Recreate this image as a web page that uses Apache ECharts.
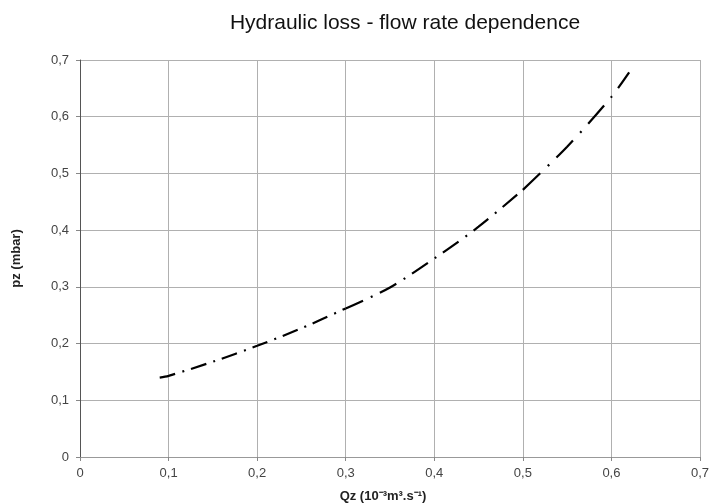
<!DOCTYPE html>
<html><head><meta charset="utf-8">
<script src="https://cdn.jsdelivr.net/npm/echarts@6/dist/echarts.min.js"></script>
<style>html,body{margin:0;padding:0;background:#fff}#c{width:712px;height:504px}</style>
</head><body><div id="c"></div>
<script>
const flowRate = [0.09, 0.10, 0.15, 0.20, 0.25, 0.30, 0.35, 0.40, 0.45, 0.50, 0.55, 0.60, 0.62];
const pressureLoss = [0.140, 0.143, 0.168, 0.196, 0.227, 0.262, 0.299, 0.350, 0.406, 0.471, 0.547, 0.635, 0.678];
const titleText = 'Hydraulic loss - flow rate dependence';
const xName = 'Qz (10⁻³m³.s⁻¹)';
const yName = 'pz (mbar)';

const fmt = v => String(Math.round(v * 10) / 10).replace('.', ',');
const pts = flowRate.map((x, i) => [x, pressureLoss[i]]);
// the reference dash pattern keeps a constant horizontal period, so steeper parts get longer dashes
const segments = [
  { from: 0.09, to: 0.30, dash: [16, 7.5, 2, 7] },
  { from: 0.30, to: 0.50, dash: [19, 8.5, 2, 8] },
  { from: 0.50, to: 0.62, dash: [24, 10.5, 2, 10] }
];
const chart = echarts.init(document.getElementById('c'));
chart.setOption({
  animation: false,
  backgroundColor: '#fff',
  title: { text: titleText, left: 400, top: 8, textAlign: 'center',
    textStyle: { fontFamily: 'Liberation Sans, Arial', fontSize: 21, fontWeight: 'normal', color: '#111' } },
  grid: { left: 80, right: 12, top: 60, bottom: 47, containLabel: false, outerBoundsMode: 'none' },
  xAxis: {
    type: 'value', min: 0, max: 0.7, interval: 0.1,
    name: xName, nameLocation: 'middle', nameGap: 33,
    nameTextStyle: { fontFamily: 'Liberation Sans, Arial', fontSize: 13, fontWeight: 'bold', color: '#222', padding: [0, 14, 0, 0] },
    axisLine: { show: true, lineStyle: { color: '#999', width: 1 } },
    axisTick: { show: true, length: 4, lineStyle: { color: '#888' } },
    axisLabel: { formatter: fmt, fontFamily: 'Liberation Sans, Arial', fontSize: 13, color: '#444', margin: 10 },
    splitLine: { show: true, lineStyle: { color: '#b0b0b0', width: 1 } }
  },
  yAxis: {
    type: 'value', min: 0, max: 0.7, interval: 0.1,
    name: yName, nameLocation: 'middle', nameGap: 57, nameRotate: 90,
    nameTextStyle: { fontFamily: 'Liberation Sans, Arial', fontSize: 13, fontWeight: 'bold', color: '#222' },
    axisLine: { show: true, lineStyle: { color: '#555', width: 1 } },
    axisTick: { show: true, length: 4, lineStyle: { color: '#888' } },
    axisLabel: { formatter: fmt, fontFamily: 'Liberation Sans, Arial', fontSize: 13, color: '#444', margin: 11 },
    splitLine: { show: true, lineStyle: { color: '#b0b0b0', width: 1 } }
  },
  series: segments.map(s => ({
    type: 'line',
    data: pts.filter(p => p[0] >= s.from - 1e-9 && p[0] <= s.to + 1e-9),
    smooth: 0.3,
    showSymbol: false,
    lineStyle: { color: '#000', width: 2.2, type: s.dash }
  }))
});
</script></body></html>
